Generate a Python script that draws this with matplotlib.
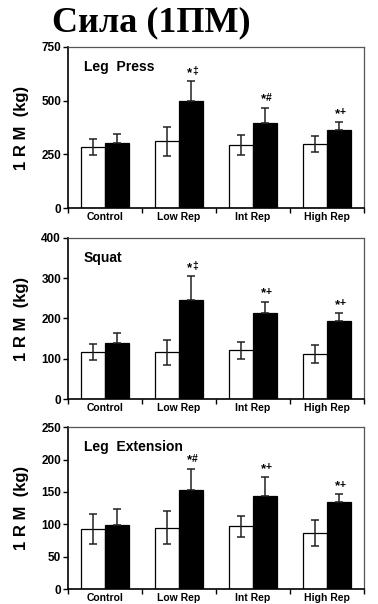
import matplotlib
matplotlib.use("Agg")
import matplotlib.pyplot as plt
import numpy as np

# ---------------------------------------------------------------------------
# Data (1RM, kg): pre = white bars, post = black bars
# ---------------------------------------------------------------------------
groups = ["Control", "Low Rep", "Int Rep", "High Rep"]

press_pre = [285, 310, 293, 298]
press_pre_sd = [37, 66, 45, 36]
press_post = [301, 498, 398, 362]
press_post_sd = [42, 93, 70, 38]
press_marks = ["", "\u2021", "#", "+"]

squat_pre = [117, 116, 121, 112]
squat_pre_sd = [19, 31, 21, 22]
squat_post = [140, 247, 214, 194]
squat_post_sd = [24, 58, 28, 20]
squat_marks = ["", "\u2021", "+", "+"]

ext_pre = [93, 95, 97, 86]
ext_pre_sd = [23, 25, 16, 20]
ext_post = [99, 153, 144, 135]
ext_post_sd = [24, 33, 29, 11]
ext_marks = ["", "#", "+", "+"]

SANS = "Liberation Sans"
plt.rcParams["font.family"] = [SANS, "DejaVu Sans"]

fig = plt.figure(figsize=(3.78, 6.04), dpi=100)
fig.text(52 / 378, 1 - 23 / 604, "Сила (1ПМ)", family="Liberation Serif",
         fontweight="bold", fontsize=26, ha="left", va="center")

panels = [
    ("Leg  Press", press_pre, press_pre_sd, press_post, press_post_sd,
     press_marks, 750, [0, 250, 500, 750], (0.6556, 0.2666)),
    ("Squat", squat_pre, squat_pre_sd, squat_post, squat_post_sd,
     squat_marks, 400, [0, 100, 200, 300, 400], (0.3394, 0.2666)),
    ("Leg  Extension", ext_pre, ext_pre_sd, ext_post, ext_post_sd,
     ext_marks, 250, [0, 50, 100, 150, 200, 250], (0.0248, 0.268)),
]

x = np.arange(len(groups))
w = 0.33

for title, pre, pre_sd, post, post_sd, marks, ymax, yticks, (bot, h) in panels:
    ax = fig.add_axes([0.18, bot, 0.783, h])
    ax.bar(x - w / 2, pre, w, color="white", edgecolor="black", linewidth=0.9)
    ax.bar(x + w / 2, post, w, color="black", edgecolor="black", linewidth=0.9)
    ax.errorbar(x - w / 2, pre, yerr=pre_sd, fmt="none", ecolor="#222222",
                elinewidth=1.1, capsize=2.6, capthick=1.1)
    ax.errorbar(x + w / 2, post, yerr=[np.zeros(len(post)), post_sd], fmt="none",
                ecolor="#222222", elinewidth=1.1, capsize=2.6, capthick=1.1)

    # significance marks: "*" plus a slightly raised second symbol
    for xi, top, m in zip(x + w / 2, np.add(post, post_sd), marks):
        if m:
            ax.annotate("*", (xi, top), xytext=(0.6, 1.5), textcoords="offset points",
                        ha="right", va="bottom", fontsize=9.5, fontweight="bold")
            ax.annotate(m, (xi, top), xytext=(0.6, 3.5), textcoords="offset points",
                        ha="left", va="bottom", fontsize=7.5, fontweight="bold")

    ax.text(0.054, 0.876, title, transform=ax.transAxes, fontsize=10,
            fontweight="bold", ha="left", va="center")

    ax.set_xlim(-0.5, len(groups) - 0.5)
    ax.set_ylim(0, ymax)
    ax.set_yticks(yticks)
    ax.set_xticks(x)
    ax.set_xticklabels(groups, fontsize=7.5, fontweight="bold")
    ax.set_xticks(np.arange(-0.5, len(groups)), minor=True)
    ax.tick_params(axis="x", which="major", length=0, pad=3)
    ax.tick_params(axis="x", which="minor", direction="out", length=3.5, width=1)
    ax.tick_params(axis="y", direction="out", length=3.5, width=1, labelsize=8.5, pad=1.5)
    for lab in ax.get_yticklabels():
        lab.set_fontweight("bold")

    for side in ("left", "bottom"):
        ax.spines[side].set_linewidth(1.2)
        ax.spines[side].set_color("black")
    for side in ("top", "right"):
        ax.spines[side].set_linewidth(0.9)
        ax.spines[side].set_color("#555555")

    ax.set_ylabel("1 R M  (kg)", fontsize=12, fontweight="bold", labelpad=9)

fig.savefig("out.png", dpi=100)
